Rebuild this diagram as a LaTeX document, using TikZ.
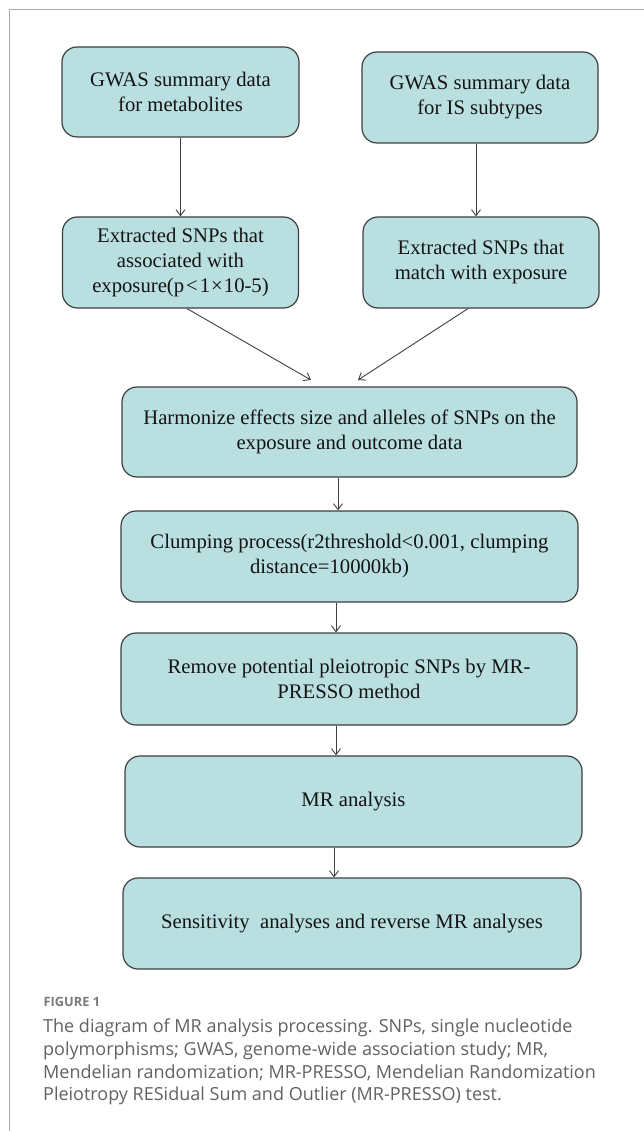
\documentclass[tikz,border=0pt]{standalone}
\usepackage{fontspec}
\setmainfont{Liberation Serif}
\newfontfamily\capfont{Open Sans}
\usetikzlibrary{arrows.meta}
\definecolor{boxfill}{HTML}{B9DFE0}
\definecolor{boxline}{HTML}{3F3F3F}
\definecolor{arrline}{HTML}{404040}
\definecolor{captext}{HTML}{626262}
\definecolor{caphead}{HTML}{7A7A7A}
\definecolor{framecol}{HTML}{A8A8A8}
\tikzset{
  flowbox/.style={draw=boxline, line width=1.2pt, fill=boxfill, rounded corners=15pt,
    align=center, inner sep=0pt, text=black!92,
    font=\fontsize{20.7}{25}\selectfont},
  arr/.style={draw=arrline, line width=0.9pt, -{Straight Barb[length=6pt,width=9pt]}},
  captxt/.style={anchor=base west, inner sep=0pt, text=captext, font=\capfont\fontsize{18}{23}\selectfont},
  caphd/.style={anchor=base west, inner sep=0pt, text=caphead, font=\capfont\bfseries\fontsize{12.8}{14}\selectfont},
}
\begin{document}
\begin{tikzpicture}[x=1pt,y=-1pt]
\useasboundingbox (0,0) rectangle (644,1131);
\fill[white] (0,0) rectangle (644,1131);
\draw[framecol, line width=1pt] (9,1131) -- (9,9.5) -- (644,9.5);

\node[flowbox, minimum width=237pt, minimum height=90pt] (b1) at (180.5,92) {GWAS summary data\\for metabolites};
\node[flowbox, minimum width=236pt, minimum height=91pt] (b2) at (480,97.5) {GWAS summary data\\for IS subtypes};
\node[flowbox, minimum width=236pt, minimum height=91pt] (b3) at (180.5,262.5) {Extracted SNPs that\\associated with\\exposure(p\hspace{2pt}<\hspace{2pt}1\hspace{1pt}×\hspace{1pt}10-5)};
\node[flowbox, minimum width=236pt, minimum height=91pt] (b4) at (481,262.5) {Extracted SNPs that\\match with exposure};
\node[flowbox, minimum width=455pt, minimum height=90pt] (b5) at (349.5,432) {Harmonize effects size and alleles of SNPs on the\\exposure and outcome data};
\node[flowbox, minimum width=457pt, minimum height=91pt] (b6) at (349.5,556.5) {Clumping process(r2threshold<0.001, clumping\\\hspace*{-40pt}distance=10000kb)};
\node[flowbox, minimum width=456pt, minimum height=92pt] (b7) at (349,679) {Remove potential pleiotropic SNPs by MR-\\PRESSO method};
\node[flowbox, minimum width=457pt, minimum height=91pt] (b8) at (353.5,801.5) {MR analysis};
\node[flowbox, minimum width=458pt, minimum height=91pt] (b9) at (352,923.5) {Sensitivity\ \ analyses and reverse MR analyses};

\coordinate (m1) at (311,380);
\coordinate (m2) at (358,380);

\draw[arr] (b1.south) -- (b3.north);
\draw[arr] ([xshift=-4pt]b2.south) -- ([xshift=-4pt]b2.south |- b4.north);
\draw[arr] ([xshift=6.5pt]b3.south) -- (m1);
\draw[arr] ([xshift=-13pt]b4.south) -- (m2);
\draw[arr] ([xshift=-11.5pt]b5.south) -- ([xshift=-11.5pt]b5.south |- b6.north);
\draw[arr] ([xshift=-13.5pt]b6.south) -- ([xshift=-13.5pt]b6.south |- b7.north);
\draw[arr] ([xshift=-13pt]b7.south) -- ([xshift=-13pt]b7.south |- b8.north);
\draw[arr] ([xshift=-19.5pt]b8.south) -- ([xshift=-19.5pt]b8.south |- b9.north);

\node[caphd] (fig) at (43.5,1006) {FIGURE 1};
\node[captxt] (c1) at (43,1032) {The diagram of MR analysis processing. SNPs, single nucleotide};
\node[captxt] (c2) at (43,1055) {polymorphisms; GWAS, genome-wide association study; MR,};
\node[captxt] (c3) at (43,1078) {Mendelian randomization; MR-PRESSO, Mendelian Randomization};
\node[captxt] (c4) at (43,1100.5) {Pleiotropy RESidual Sum and Outlier (MR-PRESSO) test.};
\end{tikzpicture}
\end{document}
